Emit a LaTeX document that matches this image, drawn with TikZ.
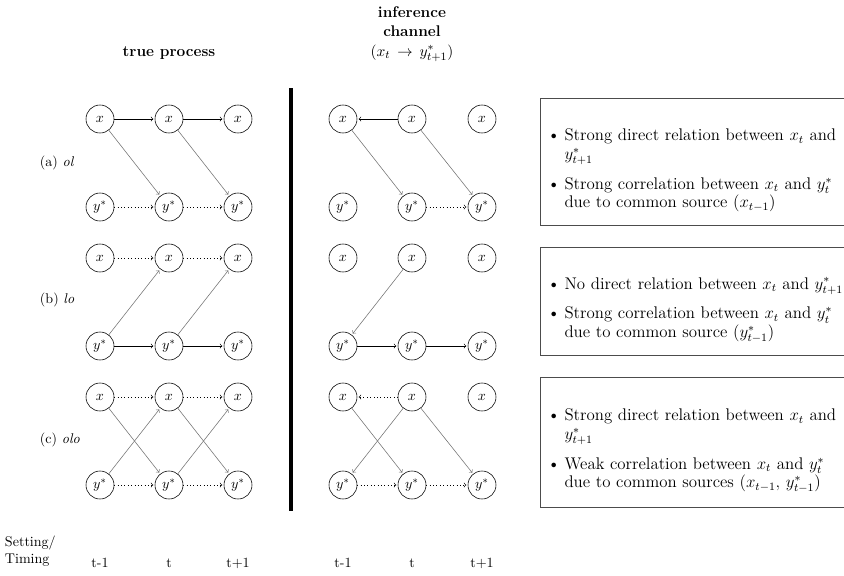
\documentclass[tikz,border=0pt]{standalone}
\usepackage{amsmath}

\begin{document}
\begin{tikzpicture}[
            x = 0.025cm, y = -0.025cm, % one unit = one pixel of the layout
            > = to, % arrow head style
            shorten > = 1pt, % don't touch arrow head to node
            var/.style = {draw = black, thin, circle, minimum size = 0.7cm, inner sep = 0pt},
            solidarr/.style = {->, black},
            diagarr/.style = {->, black!55},
            dotarr/.style = {->, dotted, black},
            head/.style = {font = \fontsize{11}{14}\selectfont, align = center},
            note/.style = {draw = black!70, anchor = west, text width = 8cm,
                inner xsep = 0.15cm, align = left, font = \fontsize{12}{13.2}\selectfont}
        ]
    \useasboundingbox (0,0) rectangle (844,575);

    % Headings
    \node[head] (hdtrue) at (169,53) {\textbf{true process}};
    \node[head] (hdinf) at (412,34)
        {\textbf{inference}\\ \textbf{channel}\\ $(x_t \,\rightarrow\, y^*_{t+1})$};

    % Row labels
    \node[anchor = west] (lbla) at (35,163) {(a) \textit{ol}};
    \node[anchor = west] (lblb) at (35,300) {(b) \textit{lo}};
    \node[anchor = west] (lblc) at (35,440) {(c) \textit{olo}};

    % Define the nodes and their positions
    \foreach \r/\ty in {a/119, b/258, c/397} {
        \foreach \p/\i/\px in {/1/100, /2/169, /3/238, i/1/343, i/2/412, i/3/482} {
            \node[var] (\r\p x\i) at (\px,\ty) {$x$};
            \node[var] (\r\p y\i) at (\px,\ty+88) {$y^*$};
        }
    }

    % Divider between true process and inference channel
    \coordinate (divtop) at (291,88);
    \coordinate (divbot) at (291,512);
    \draw[line width = 2.6pt] (divtop) -- (divbot);

    % (a) ol
    \path[solidarr] (ax1) edge (ax2) (ax2) edge (ax3);
    \path[diagarr] (ax1) edge (ay2) (ax2) edge (ay3);
    \path[dotarr] (ay1) edge (ay2) (ay2) edge (ay3);
    \path[solidarr] (aix2) edge (aix1);
    \path[diagarr] (aix1) edge (aiy2) (aix2) edge (aiy3);
    \path[dotarr] (aiy2) edge (aiy3);

    % (b) lo
    \path[dotarr] (bx1) edge (bx2) (bx2) edge (bx3);
    \path[diagarr] (by1) edge (bx2) (by2) edge (bx3);
    \path[solidarr] (by1) edge (by2) (by2) edge (by3);
    \path[diagarr] (bix2) edge (biy1);
    \path[solidarr] (biy1) edge (biy2) (biy2) edge (biy3);

    % (c) olo
    \path[dotarr] (cx1) edge (cx2) (cx2) edge (cx3) (cy1) edge (cy2) (cy2) edge (cy3);
    \path[diagarr] (cx1) edge (cy2) (cx2) edge (cy3) (cy1) edge (cx2) (cy2) edge (cx3);
    \path[dotarr] (cix2) edge (cix1) (ciy1) edge (ciy2) (ciy2) edge (ciy3);
    \path[diagarr] (cix1) edge (ciy2) (cix2) edge (ciy1) (cix2) edge (ciy3);

    % Explanation boxes
    \node[note, minimum height = 3.175cm] (nota) at (540,161.5) {%
        \setlength{\leftmargini}{13pt}\setlength{\labelsep}{3pt}%
        \setlength{\topsep}{0pt}\setlength{\partopsep}{0pt}\setlength{\itemsep}{1pt}%
        \begin{itemize}
            \item Strong direct relation between $x_t$ and\\ $y^*_{t+1}$
            \item Strong correlation between $x_t$ and $y^*_t$\\ due to common source $(x_{t-1})$
        \end{itemize}};
    \node[note, minimum height = 2.7cm] (notb) at (540,301) {%
        \setlength{\leftmargini}{13pt}\setlength{\labelsep}{3pt}%
        \setlength{\topsep}{0pt}\setlength{\partopsep}{0pt}\setlength{\itemsep}{1pt}%
        \begin{itemize}
            \item No direct relation between $x_t$ and $y^*_{t+1}$
            \item Strong correlation between $x_t$ and $y^*_t$\\ due to common source $(y^*_{t-1})$
        \end{itemize}};
    \node[note, minimum height = 3.25cm] (notc) at (540,442) {%
        \setlength{\leftmargini}{13pt}\setlength{\labelsep}{3pt}%
        \setlength{\topsep}{0pt}\setlength{\partopsep}{0pt}\setlength{\itemsep}{1pt}%
        \begin{itemize}
            \item Strong direct relation between $x_t$ and\\ $y^*_{t+1}$
            \item Weak correlation between $x_t$ and $y^*_t$\\ due to common sources $(x_{t-1},\, y^*_{t-1})$
        \end{itemize}};

    % Timing axis
    \node[anchor = west, align = left] (timing) at (0,551) {Setting/\\ Timing};
    \node (tm1) at (100,563) {t-1};
    \node (tm2) at (169,563) {t};
    \node (tm3) at (238,563) {t+1};
    \node (tim1) at (343,563) {t-1};
    \node (tim2) at (412,563) {t};
    \node (tim3) at (482,563) {t+1};
\end{tikzpicture}
\end{document}
